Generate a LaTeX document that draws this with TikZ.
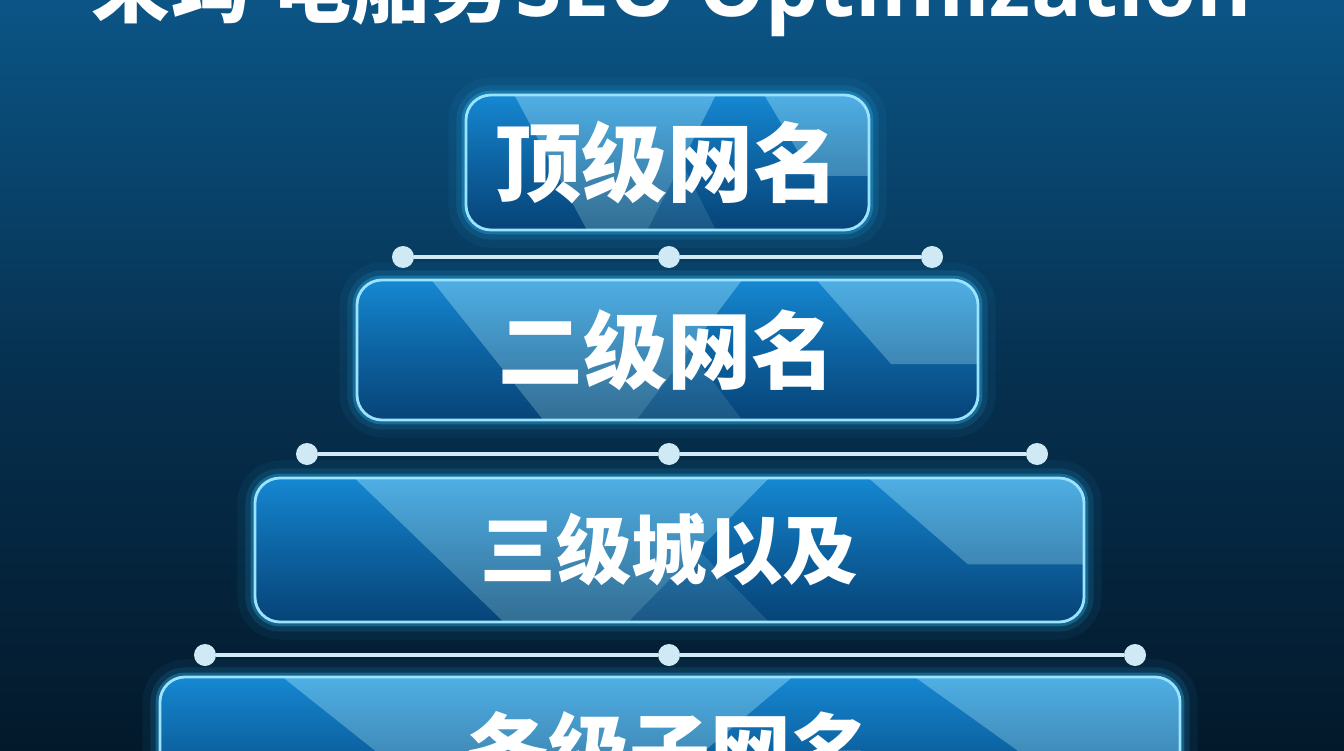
\documentclass[tikz,border=0pt]{standalone}
\usepackage{fontspec}
\newfontfamily\cjk{Noto Sans CJK SC}
\newfontfamily\latinfont{Open Sans}
\usetikzlibrary{calc,fadings}

\definecolor{bgtop}{HTML}{0B5586}
\definecolor{bgmid}{HTML}{06304F}
\definecolor{bgbot}{HTML}{03192B}
\definecolor{boxtop}{HTML}{1689D3}
\definecolor{boxbot}{HTML}{0A62AC}
\definecolor{bandcol}{HTML}{7FD0F5}
\definecolor{edgecol}{HTML}{9BE3FF}
\definecolor{glowcol}{HTML}{2FC0FF}
\definecolor{linecol}{HTML}{CFEAF5}

\begin{document}
\begin{tikzpicture}[
    levelbox/.style={rounded corners=0.5cm, draw=edgecol, line width=1.6pt,
      top color=boxtop, bottom color=boxbot, text=white, inner sep=0pt,
      preaction={draw=glowcol, line width=20pt, opacity=0.06},
      preaction={draw=glowcol, line width=11pt, opacity=0.12},
      preaction={draw=glowcol, line width=5pt, opacity=0.3},
      path picture={
        \coordinate (nw) at (path picture bounding box.north west);
        \coordinate (ne) at (path picture bounding box.north east);
        \coordinate (sw) at (path picture bounding box.south west);
        \coordinate (se) at (path picture bounding box.south east);
        \fill[lightband] ($(nw)!0.12!(ne)$) -- ($(nw)!0.62!(ne)$) -- ($(sw)!0.45!(se)$) -- ($(sw)!0.30!(se)$) -- cycle;
        \fill[lightband] ($(nw)!0.74!(ne)$) -- (ne) -- ($(ne)!0.6!(se)$) -- ($($(nw)!0.86!(ne)$)!0.6!($(sw)!0.86!(se)$)$) -- cycle;
        \fill[lightband, opacity=0.25] ($(sw)!0.45!(se)$) -- ($($(nw)!0.62!(ne)$)!0.5!($(sw)!0.45!(se)$)$) -- ($(sw)!0.62!(se)$) -- cycle;
        \fill[black, opacity=0.3, path fading=north, sharp corners] (sw) rectangle (ne);
      }},
    lightband/.style={fill=bandcol, opacity=0.55, sharp corners},
    levelfont/.style={font=\cjk\bfseries\fontsize{#1}{#1}\selectfont},
    dotnode/.style={circle, fill=linecol, inner sep=0pt, minimum size=0.44cm},
    linkline/.style={draw=linecol, line width=2.8pt}
  ]

  \useasboundingbox (0,0) rectangle (26.88,15);
  \clip (0,0) rectangle (26.88,15);
  \shade[top color=bgtop, bottom color=bgbot, middle color=bgmid] (0,0) rectangle (26.88,15);

  \coordinate (t0p) at (13.44, 14.66);

  \coordinate (b1p) at (13.35, 11.75);
  \coordinate (b2p) at (13.35, 8.0);
  \coordinate (b3p) at (13.39, 4.0);
  \coordinate (b4p) at (13.4, 0.0);

  \coordinate (l1ap) at (8.06, 9.86);
  \coordinate (l1bp) at (13.38, 9.86);
  \coordinate (l1cp) at (18.64, 9.86);

  \coordinate (l2ap) at (6.14, 5.92);
  \coordinate (l2bp) at (13.38, 5.92);
  \coordinate (l2cp) at (20.74, 5.92);

  \coordinate (l3ap) at (4.1, 1.9);
  \coordinate (l3bp) at (13.38, 1.9);
  \coordinate (l3cp) at (22.7, 1.9);

  % Title
  \node[anchor=base, text=white, inner sep=0pt] (t0) at (t0p)
    {{\cjk\bfseries\fontsize{45}{45}\selectfont 来玛}{\latinfont\bfseries\fontsize{45}{45}\selectfont ·}{\cjk\bfseries\fontsize{45}{45}\selectfont 电船务} {\latinfont\bfseries\fontsize{48}{48}\selectfont SEO Optimization}};

  % Levels
  \node[levelbox, levelfont=49pt, minimum width=8.06cm, minimum height=2.7cm] (b1) at (b1p) {顶级网名};
  \node[levelbox, levelfont=48pt, minimum width=12.42cm, minimum height=2.8cm] (b2) at (b2p) {二级网名};
  \node[levelbox, levelfont=43pt, minimum width=16.58cm, minimum height=2.88cm] (b3) at (b3p) {三级城以及};
  \node[levelbox, levelfont=46pt, minimum width=20.4cm, minimum height=2.92cm] (b4) at (b4p) {各级子网名};

  % Links between levels
  \node[dotnode] (l1a) at (l1ap) {};
  \node[dotnode] (l1b) at (l1bp) {};
  \node[dotnode] (l1c) at (l1cp) {};
  \node[dotnode] (l2a) at (l2ap) {};
  \node[dotnode] (l2b) at (l2bp) {};
  \node[dotnode] (l2c) at (l2cp) {};
  \node[dotnode] (l3a) at (l3ap) {};
  \node[dotnode] (l3b) at (l3bp) {};
  \node[dotnode] (l3c) at (l3cp) {};

  \draw[linkline] (l1a) -- (l1b) -- (l1c);
  \draw[linkline] (l2a) -- (l2b) -- (l2c);
  \draw[linkline] (l3a) -- (l3b) -- (l3c);

\end{tikzpicture}
\end{document}
